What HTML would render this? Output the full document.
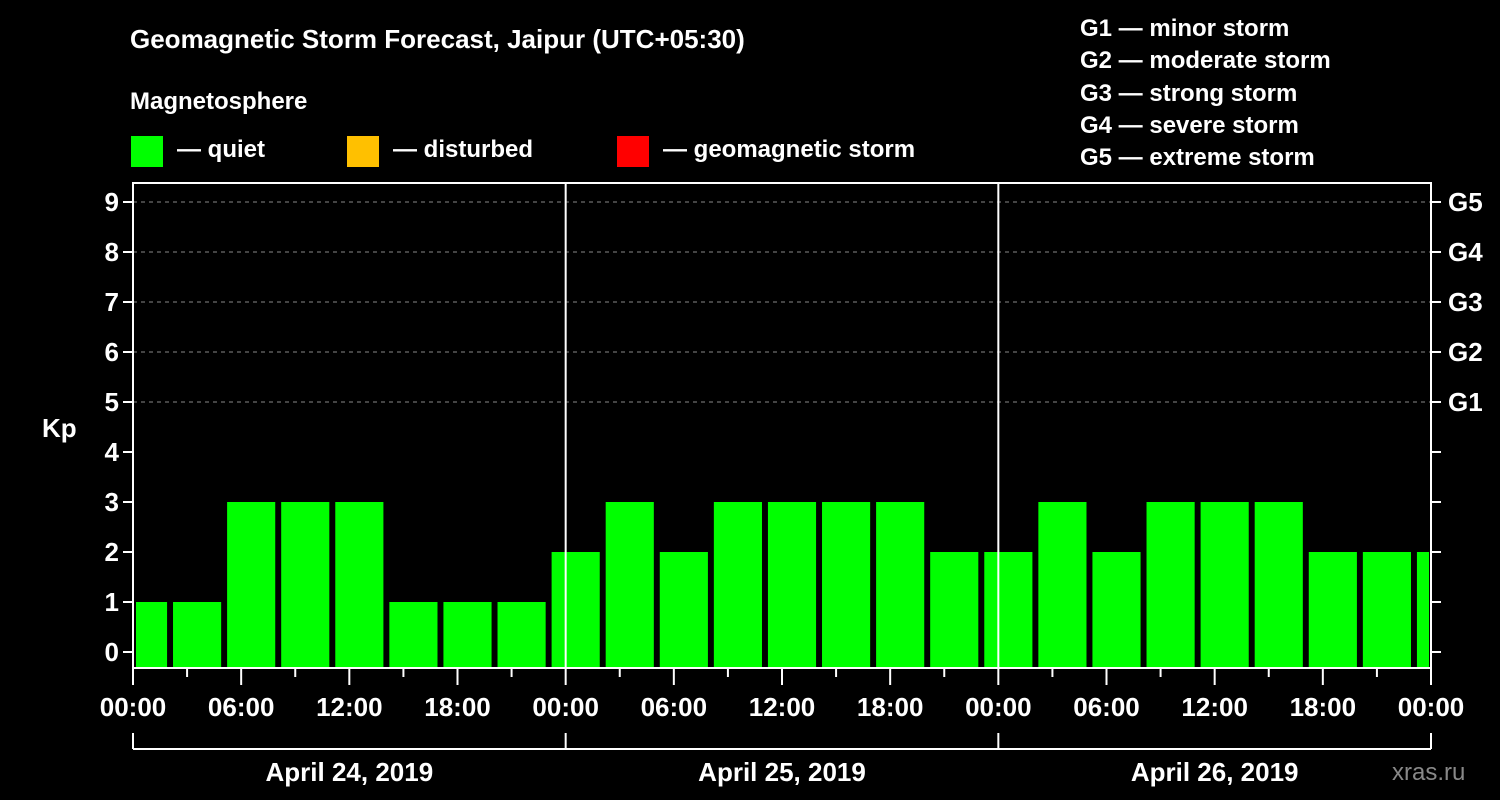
<!DOCTYPE html>
<html><head><meta charset="utf-8"><style>
body{margin:0;background:#000;}
svg{display:block;font-family:"Liberation Sans",sans-serif;font-weight:bold;}
</style></head><body>
<svg width="1500" height="800" viewBox="0 0 1500 800">
<rect width="1500" height="800" fill="#000"/>
<text x="130" y="48" fill="#fff" font-size="26">Geomagnetic Storm Forecast, Jaipur (UTC+05:30)</text>
<text x="130" y="109" fill="#fff" font-size="24">Magnetosphere</text>
<g><rect x="131" y="136" width="32" height="31" fill="#00ff00"/><text x="177" y="157" fill="#fff" font-size="24">— quiet</text></g>
<g><rect x="347" y="136" width="32" height="31" fill="#ffc000"/><text x="393" y="157" fill="#fff" font-size="24">— disturbed</text></g>
<g><rect x="617" y="136" width="32" height="31" fill="#ff0000"/><text x="663" y="157" fill="#fff" font-size="24">— geomagnetic storm</text></g>
<g fill="#fff" font-size="24">
<text x="1080" y="36">G1 — minor storm</text>
<text x="1080" y="68">G2 — moderate storm</text>
<text x="1080" y="101">G3 — strong storm</text>
<text x="1080" y="133">G4 — severe storm</text>
<text x="1080" y="165">G5 — extreme storm</text>
</g>
<text x="42" y="437" fill="#fff" font-size="26">Kp</text>
<text x="1392" y="780" fill="#888" font-size="24" font-weight="normal">xras.ru</text>
<g id="plot"></g>
</svg>
<script>
const kpValues=[1,1,3,3,3,1,1,1,2,3,2,3,3,3,3,2,2,3,2,3,3,3,2,2,2];
const yTicks=[0,1,2,3,4,5,6,7,8,9];
const gLabels=["G1","G2","G3","G4","G5"];
const xTickLabels=["00:00","06:00","12:00","18:00","00:00","06:00","12:00","18:00","00:00","06:00","12:00","18:00","00:00"];
const dayLabels=["April 24, 2019","April 25, 2019","April 26, 2019"];
const barStartOffsetH=-0.78, barWidthH=2.67;
const NS="http://www.w3.org/2000/svg";
const g=document.getElementById('plot');
const X0=133,X1=1431,T=183,B=668;
const xs=h=>X0+(X1-X0)*h/72;
const ys=v=>652-50*v;
function mk(tag,a,parent){const e=document.createElementNS(NS,tag);for(const k in a)e.setAttribute(k,a[k]);(parent||g).appendChild(e);return e;}
// grid
gLabels.forEach((lab,i)=>{const v=5+i;
 const l=mk('line',{x1:X0,x2:X1,y1:ys(v),y2:ys(v),stroke:'#888','stroke-dasharray':'4,4','stroke-width':1});
 
 
 const t=mk('text',{x:1448,y:ys(v)+9,fill:'#fff','font-size':26});t.textContent=lab;
 
 
});
// bars
const clip=mk('clipPath',{id:'pc'});mk('rect',{x:X0+3,y:T,width:X1-X0-5,height:B-T},clip);
kpValues.forEach((v,k)=>{const h0=barStartOffsetH+3*k;
 const r=mk('rect',{x:xs(h0),y:ys(v),width:xs(h0+barWidthH)-xs(h0),height:B-ys(v),fill:'#00ff00','clip-path':'url(#pc)'});
 
 
});
// frame
const fr=mk('rect',{x:X0,y:T,width:X1-X0,height:B-T,fill:'none',stroke:'#fff','stroke-width':2});


[1,2].forEach(d=>{const l=mk('line',{x1:xs(24*d),x2:xs(24*d),y1:T,y2:B,stroke:'#fff','stroke-width':2});
 
 });
// y ticks
yTicks.forEach(v=>{
 mk('line',{x1:X0-10,x2:X0,y1:ys(v),y2:ys(v),stroke:'#fff','stroke-width':2});
 mk('line',{x1:X1,x2:X1+10,y1:ys(v),y2:ys(v),stroke:'#fff','stroke-width':2});
 const t=mk('text',{x:X0-14,y:ys(v)+9,fill:'#fff','font-size':26,'text-anchor':'end'});t.textContent=v;
 
 
});
// x ticks
for(let h=0;h<=72;h+=3){const major=h%6===0;
 mk('line',{x1:xs(h),x2:xs(h),y1:B,y2:B+(major?17:9),stroke:'#fff','stroke-width':2});}
xTickLabels.forEach((lab,i)=>{const t=mk('text',{x:xs(6*i),y:716,fill:'#fff','font-size':26,'text-anchor':'middle'});t.textContent=lab;
 
 });
// day bracket
mk('line',{x1:X0,x2:X1,y1:749,y2:749,stroke:'#fff','stroke-width':2});
for(let d=0;d<=3;d++)mk('line',{x1:xs(24*d),x2:xs(24*d),y1:733,y2:749,stroke:'#fff','stroke-width':2});
dayLabels.forEach((lab,i)=>{const t=mk('text',{x:xs(24*i+12),y:781,fill:'#fff','font-size':26,'text-anchor':'middle'});t.textContent=lab;
 
 });
</script>
</body></html>
